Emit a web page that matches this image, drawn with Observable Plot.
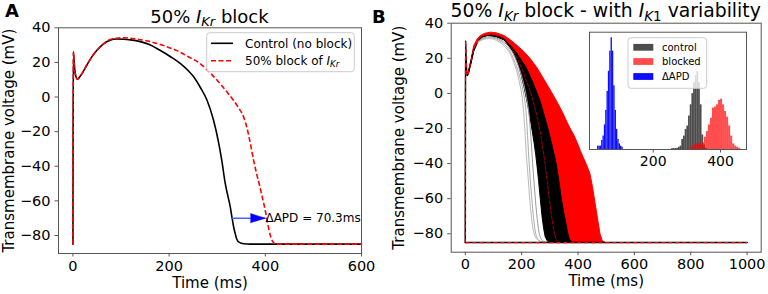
<!DOCTYPE html>
<html><head><meta charset="utf-8">
<script src="https://cdn.jsdelivr.net/npm/d3@7"></script>
<script src="https://cdn.jsdelivr.net/npm/@observablehq/plot@0.6"></script>
<style>
body{margin:0;background:#fff;}
#wrap{position:relative;width:768px;height:294px;overflow:hidden;background:#fff;font-family:"DejaVu Sans",sans-serif;}
</style></head><body><div id="wrap"></div>
<script>
// ---------------- data ----------------
const ticksV = [-80, -60, -40, -20, 0, 20, 40];
const ticksTimeA = [0, 200, 400, 600];
const ticksTimeB = [0, 200, 400, 600, 800, 1000];
const ticksInset = [200, 400];

// Panel A traces [time ms, voltage mV]
const controlA = [[0,-85],[0.4,-20],[1,26],[3,18],[6,12],[9.6,10.3],[15,12],[22,15],[29,18.5],[40,23.5],[50,27],[63,30.5],[77,32.8],[91,33.5],[105,33.4],[120,33],[140,32],[160,30.2],[181,27],[203,23.3],[223,19.5],[240,15.2],[251,11.7],[265,5.5],[278.6,-1.7],[292,-13],[303,-26.5],[310,-37.5],[316.6,-49.8],[322,-57],[327,-63.3],[331,-70],[334,-74.8],[338,-79.5],[341,-82.3],[346,-84],[355,-84.8],[370,-85],[600,-85]];
const blockedA = [[0,-85],[0.4,-20],[1,26],[3,18],[6,12],[9.6,10.3],[15,12],[22,15],[29,18.5],[40,23.5],[50,27],[63,30.6],[77,33.2],[91,34],[105,34.2],[130,33.6],[161,32],[190,29.6],[216,26.8],[240,23.3],[265,19.2],[286,13.8],[306,7.7],[320,3],[334,-2],[345,-6.5],[355,-11.6],[362,-18],[369,-27],[376,-37],[382.5,-45],[388,-51],[393,-57],[398,-63],[403,-70],[407,-76],[411,-80.5],[415,-83.3],[419,-84.6],[426,-85],[600,-85]];
const apdControl = 330;
const apdDelta = 70.3;
const apdLevel = -70;
const legendA = ["Control (no block)", "50% block of "];

// Panel B: bundle edges [time ms, voltage mV]
const redOuterB = [[7,10.2],[12,12.8],[20,19],[30,27.3],[42,31],[54,33],[70,34.3],[89.6,34.9],[110,34.5],[137,33],[160,30.5],[184,27.3],[208,23.8],[231,19.7],[255,14.5],[278,8.3],[302,1.8],[326,-5],[345,-10.8],[361,-16.4],[374,-20.5],[386,-24],[397,-28],[408,-32.5],[420,-37],[431,-41],[442,-45.5],[451,-53],[460,-62],[470,-72],[478,-80],[486,-84],[497,-85]];
const blackOuterB = [[7,10.2],[12,12.6],[20,18],[30,25.5],[45,30.5],[60,33],[90,33.8],[115,33.2],[137,31.8],[160,28],[184,23.5],[200,19.5],[219,14.9],[243,6.4],[255,1.5],[266.5,-3.1],[284,-12.6],[300,-22],[313,-30.5],[326,-40],[335,-49],[343.5,-59],[352,-67],[361,-74.3],[367,-79.5],[373,-83],[380,-84.5],[390,-85]];
const blackInnerB = [[7,10.2],[12,12.4],[20,17],[30,24],[45,29.5],[60,32],[80,33],[110,32.2],[137,30.5],[155,27],[172,23],[185,18],[196,12.1],[208,4],[219.5,-5],[229,-13],[238,-22],[244,-28],[250,-35],[255,-42],[260,-49.6],[266,-60],[272.6,-70.5],[278,-77],[284,-82],[292,-84.3],[305,-85]];
const grayB1 = [[45,29],[65,30.8],[85,31.2],[110,30.3],[130,28.3],[145,25.8],[160,22.3],[172,17.5],[184,12],[193,5.5],[200,0],[205,-7],[209,-15],[212,-22],[215,-31],[219,-40],[224,-50],[228,-59],[232,-66],[236,-72.4],[240,-77],[245,-80.3],[252,-82.6],[261,-83.9],[275,-84.7],[300,-85]];
const grayB2 = [[45,29.3],[65,31.2],[85,31.7],[110,31],[130,29.2],[150,26],[165,22],[178,17],[190,11.5],[200,5],[208,-1],[214,-8],[218,-16],[221,-24],[224,-33],[228,-43],[233,-54],[237,-62],[241,-69],[245,-75],[250,-80],[257,-82.8],[266,-84.2],[280,-84.8],[305,-85]];
const grayB3 = [[45,29.6],[65,31.6],[85,32.2],[110,31.6],[130,30],[150,27.2],[170,22.5],[185,17],[198,11],[210,3.5],[219,-4],[226,-12],[231,-21],[235,-30],[239,-40],[244,-51],[249,-61],[253,-68],[257,-74],[262,-79.5],[268,-82.6],[276,-84.2],[290,-84.8],[310,-85]];
const redMidB = [[90,33.6],[137,31.2],[184,20],[215,8],[240,-4],[258,-16],[270,-26],[283,-40],[298,-60],[310,-74],[318,-81],[328,-84.5],[345,-85]];
const spikeB = [[0,-85],[0.4,-25],[1,30],[2.5,22],[4.5,14],[7,10.2],[10,11.3],[14,13.8],[20,18],[30,25]];
const restB = [[0,-85],[1000,-85]];

// Inset histograms (APD, ms): bin lower edges and counts
const deltaBinWidth = 4;
const deltaBinLo = [35,39,43,47,51,55,59,63,67,71,75,79,83,87,91,95,99,103,107];
const deltaCounts = [3,3,3,8,12,22,35,52,70,88,100,88,57,35,18,9,5,3,2];
const controlBinWidth = 5;
const controlBinLo = [255,260,265,270,275,280,285,290,295,300,305,310,315,320,325,330,335,340,345,350,355];
const controlCounts = [0.8,0.8,0.8,1,2,3,9,12,18,21,30,40,50,60,66,70,60,40,13,4,1];
const blockedBinWidth = 6;
const blockedBinLo = [310,316,322,328,334,340,346,352,358,364,370,376,382,388,394,400,406,412,418,424,430,436,442,448,454];
const blockedCounts = [2,3,4,5,5,5,6,11,16,22,28,37,38,40,44,45,40,34,29,21,12,5,3,2,1];
const insetLegend = ["control", "blocked", "\u0394APD"];

// ---------------- rendering ----------------
const FONT = '"DejaVu Sans", sans-serif';
const fmt = d => d < 0 ? "\u2212" + Math.abs(d) : String(d);
const T = d => d[0], V = d => d[1];
const wrap = document.getElementById("wrap");
function place(svg, left, top) {
  svg.style.position = "absolute"; svg.style.left = left + "px"; svg.style.top = top + "px";
  wrap.appendChild(svg);
  d3.select(svg).selectAll("[aria-label$='axis tick'] path, [aria-label$='-axis'] .tick line").attr("stroke", "#555");
}
const hasSpike = typeof Plot.spike === "function";

const arrowData = [{x1: apdControl, x2: apdControl + apdDelta, y: apdLevel, label: `\u0394APD = ${apdDelta}ms`}];
const headMark = hasSpike
  ? Plot.vector(arrowData, {x: "x2", y: "y", length: 15, rotate: 90, shape: "spike", r: 4.6, anchor: "end", fill: "blue", stroke: "blue", strokeWidth: 0.5})
  : Plot.dot(arrowData, {x: "x2", y: "y", symbol: "triangle", rotate: 90, r: 4.6, fill: "blue", dx: -6.5});

const axisLabels = (dxY, dyX) => [
  Plot.text(["Time (ms)"], {frameAnchor: "bottom", dy: dyX, fontSize: 15, text: d => d, textAnchor: "middle", lineAnchor: "middle"}),
  Plot.text(["Transmembrane voltage (mV)"], {frameAnchor: "left", dx: dxY, rotate: -90, fontSize: 15, text: d => d, textAnchor: "middle", lineAnchor: "middle"})
];

const plotA = Plot.plot({
  width: 384, height: 294,
  marginLeft: 58, marginRight: 23, marginTop: 27.3, marginBottom: 41,
  style: {fontFamily: FONT, fontSize: "14.5px", background: "transparent", color: "black", overflow: "visible"},
  x: {domain: [-30, 600], ticks: ticksTimeA, tickFormat: fmt, tickSize: 3.5, tickPadding: 3.5, label: null},
  y: {domain: [-90.4, 40], ticks: ticksV, tickFormat: fmt, tickSize: 3.5, tickPadding: 4.5, label: null},
  marks: [
    Plot.line(controlA, {x: T, y: V, stroke: "black", strokeWidth: 1.6, curve: "monotone-x"}),
    Plot.line(blockedA, {x: T, y: V, stroke: "red", strokeWidth: 1.6, strokeDasharray: "5,2.5", strokeLinecap: "butt", curve: "monotone-x"}),
    Plot.link(arrowData, {x1: "x1", x2: "x2", y1: "y", y2: "y", stroke: "#4466ff", strokeWidth: 1.5}),
    headMark,
    Plot.text(arrowData, {x: "x2", y: "y", text: "label", textAnchor: "start", fontSize: 12, dx: 0}),
    Plot.frame({stroke: "#555"}),
    ...axisLabels(-49, 29.5)
  ]
});
place(plotA, 0, 0);

const redPoly = [...redOuterB, ...blackOuterB.slice().reverse()];
const blackPoly = [...blackOuterB, ...blackInnerB.slice().reverse()];
const plotB = Plot.plot({
  width: 384, height: 294,
  marginLeft: 66.7, marginRight: 7.3, marginTop: 22.7, marginBottom: 42.3,
  style: {fontFamily: FONT, fontSize: "14.5px", background: "transparent", color: "black", overflow: "visible"},
  x: {domain: [-50, 1050], ticks: ticksTimeB, tickFormat: fmt, tickSize: 3.5, tickPadding: 3.5, label: null},
  y: {domain: [-90.5, 40], ticks: ticksV, tickFormat: fmt, tickSize: 3.5, tickPadding: 4.5, label: null},
  marks: [
    Plot.line(blackPoly, {x: T, y: V, fill: "black", stroke: "black", strokeWidth: 1, curve: "linear"}),
    Plot.line(redPoly, {x: T, y: V, fill: "red", stroke: "red", strokeWidth: 1, curve: "linear"}),
    Plot.line(redMidB, {x: T, y: V, stroke: "#b00000", strokeWidth: 1, strokeDasharray: "3,2", curve: "monotone-x"}),
    Plot.line(grayB3, {x: T, y: V, stroke: "#999", strokeWidth: 1, curve: "monotone-x"}),
    Plot.line(grayB2, {x: T, y: V, stroke: "#aaa", strokeWidth: 1, curve: "monotone-x"}),
    Plot.line(grayB1, {x: T, y: V, stroke: "#b8b8b8", strokeWidth: 1, curve: "monotone-x"}),
    Plot.line(restB, {x: T, y: V, stroke: "black", strokeWidth: 1.5}),
    Plot.line(restB, {x: T, y: V, stroke: "red", strokeWidth: 1.2, strokeDasharray: "4,3", strokeLinecap: "butt"}),
    Plot.line(spikeB, {x: T, y: V, stroke: "black", strokeWidth: 1.5, curve: "monotone-x"}),
    Plot.line(spikeB, {x: T, y: V, stroke: "red", strokeWidth: 1.2, strokeDasharray: "4,3", strokeLinecap: "butt", curve: "monotone-x"}),
    Plot.frame({stroke: "#555"}),
    ...axisLabels(-52, 29)
  ]
});
place(plotB, 384, 0);

const histRows = (lo, counts, w) => lo.map((x, i) => ({x1: x, x2: x + w, y: counts[i]}));
const inset = Plot.plot({
  width: 159, height: 145,
  marginLeft: 1, marginRight: 1, marginTop: 0.7, marginBottom: 27,
  style: {fontFamily: FONT, fontSize: "14px", background: "transparent", color: "black", overflow: "visible"},
  x: {domain: [11, 477], ticks: ticksInset, tickSize: 3.5, tickPadding: 3, label: null},
  y: {domain: [0, 105], axis: null},
  marks: [
    Plot.frame({fill: "white", stroke: "none"}),
    Plot.rectY(histRows(controlBinLo, controlCounts, controlBinWidth), {x1: "x1", x2: "x2", y: "y", fill: "black", fillOpacity: 0.7}),
    Plot.rectY(histRows(blockedBinLo, blockedCounts, blockedBinWidth), {x1: "x1", x2: "x2", y: "y", fill: "red", fillOpacity: 0.7}),
    Plot.rectY(histRows(deltaBinLo, deltaCounts, deltaBinWidth), {x1: "x1", x2: "x2", y: "y", fill: "blue", fillOpacity: 0.95}),
    Plot.frame({stroke: "#555"})
  ]
});
place(inset, 588, 31);

// ---------------- overlay text: titles, panel letters, legends ----------------
const ov = d3.create("svg").attr("width", 768).attr("height", 294)
  .style("position", "absolute").style("left", "0px").style("top", "0px")
  .attr("font-family", FONT);
function rich(x, y, parts, size, anchor, subShift) {
  const t = ov.append("text").attr("x", x).attr("y", y).attr("font-size", size).attr("text-anchor", anchor || "start").attr("fill", "black");
  let cur = 0;
  for (const p of parts) {
    const want = p.sub ? subShift : 0;
    const s = t.append("tspan").text(p.t).attr("dy", want - cur);
    if (p.it) s.attr("font-style", "italic");
    if (p.sub) s.attr("font-size", size * 0.72);
    cur = want;
  }
  return t;
}
ov.append("text").attr("x", 5).attr("y", 16.7).attr("font-size", 18).attr("font-weight", "bold").text("A");
ov.append("text").attr("x", 372).attr("y", 23).attr("font-size", 18).attr("font-weight", "bold").text("B");
rich(209.5, 22.7, [{t: "50% "}, {t: "I", it: 1}, {t: "Kr", it: 1, sub: 1}, {t: " block"}], 18, "middle", 3.5);
rich(605.7, 17.3, [{t: "50% "}, {t: "I", it: 1}, {t: "Kr", it: 1, sub: 1}, {t: " block - with "}, {t: "I", it: 1}, {t: "K", it: 1, sub: 1}, {t: "1", sub: 1}, {t: " variability"}], 18.8, "middle", 3.5);

// Legend A
ov.append("rect").attr("x", 206.7).attr("y", 32.7).attr("width", 147.6).attr("height", 39).attr("rx", 3)
  .attr("fill", "white").attr("fill-opacity", 0.85).attr("stroke", "#ccc");
ov.append("line").attr("x1", 211).attr("x2", 233).attr("y1", 43.3).attr("y2", 43.3).attr("stroke", "black").attr("stroke-width", 1.6);
ov.append("line").attr("x1", 211).attr("x2", 233).attr("y1", 60.7).attr("y2", 60.7).attr("stroke", "red").attr("stroke-width", 1.6).attr("stroke-dasharray", "5,2.5");
rich(245, 47.5, [{t: legendA[0]}], 12, "start", 0);
rich(245, 64.9, [{t: legendA[1]}, {t: "I", it: 1}, {t: "Kr", it: 1, sub: 1}], 12, "start", 2.5);

// Inset legend
ov.append("rect").attr("x", 628).attr("y", 37.7).attr("width", 78.7).attr("height", 50.6).attr("rx", 3)
  .attr("fill", "white").attr("fill-opacity", 0.8).attr("stroke", "#ccc");
const patchFill = [["black", 0.7], ["red", 0.7], ["blue", 0.95]];
const rowsY = [47.3, 61.5, 76.5];
insetLegend.forEach((lab, i) => {
  ov.append("rect").attr("x", 633.3).attr("y", rowsY[i] - 3.4).attr("width", 20).attr("height", 6.8)
    .attr("fill", patchFill[i][0]).attr("fill-opacity", patchFill[i][1]);
  rich(662, rowsY[i] + 3.6, [{t: lab}], 10, "start", 0);
});
wrap.appendChild(ov.node());
</script>
</body></html>
